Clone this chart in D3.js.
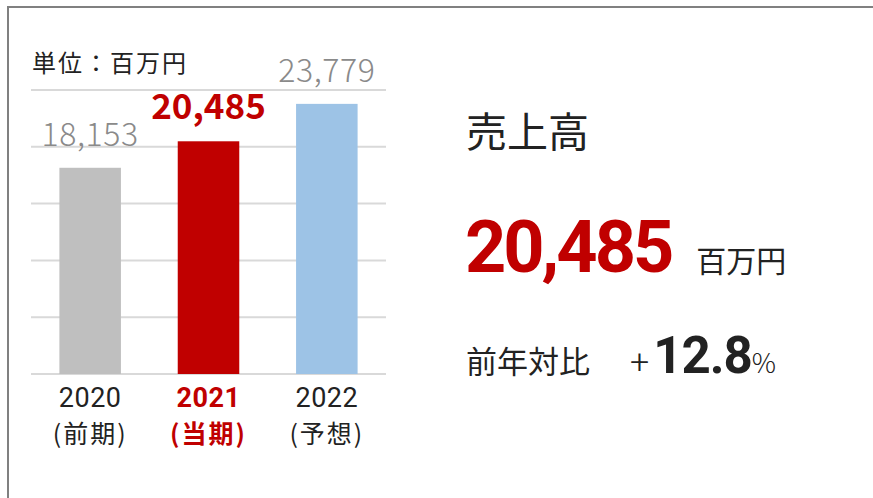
<!DOCTYPE html>
<html>
<head>
<meta charset="utf-8">
<script src="https://cdn.jsdelivr.net/npm/d3@7"></script>
<style>
  body { margin: 0; background: #fff; }
  text { font-family: "Noto Sans CJK JP", "Noto Sans", sans-serif; }
</style>
</head>
<body>
<div id="chart"></div>
<script>
// data
var years = ["2020", "2021", "2022"];
var periods = ["(前期)", "(当期)", "(予想)"];
var sales = [18153, 20485, 23779];
var barColors = ["#bfbfbf", "#c00000", "#9dc3e6"];
var labelColors = ["#8a8a8a", "#c00000", "#8a8a8a"];
var tickValues = [0, 5000, 10000, 15000, 20000, 25000];
var current = "2021";
var growth = "12.8";

var W = 873, H = 498;
var svg = d3.select("#chart").append("svg")
    .attr("width", W)
    .attr("height", H);

// frame
svg.append("rect")
    .attr("x", 8).attr("y", 7)
    .attr("width", W + 10).attr("height", H + 10)
    .attr("fill", "none")
    .attr("stroke", "#808080")
    .attr("stroke-width", 2);

var x = d3.scaleBand()
    .domain(years)
    .range([31, 386])
    .paddingInner(0.48)
    .paddingOuter(0.24);

var y = d3.scaleLinear()
    .domain([0, 25000])
    .range([374, 90]);

// gridlines
svg.append("g")
    .selectAll("line")
    .data(tickValues)
    .enter()
    .append("line")
    .attr("x1", 31).attr("x2", 386)
    .attr("y1", function(d) { return y(d); })
    .attr("y2", function(d) { return y(d); })
    .attr("stroke", "#d9d9d9")
    .attr("stroke-width", 2);

// bars
svg.selectAll("rect.bar")
    .data(sales)
    .enter()
    .append("rect")
    .attr("class", "bar")
    .attr("x", function(d, i) { return x(years[i]); })
    .attr("y", function(d) { return y(d); })
    .attr("width", x.bandwidth())
    .attr("height", function(d) { return y(0) - y(d); })
    .attr("fill", function(d, i) { return barColors[i]; });

// value labels
svg.selectAll("text.val")
    .data(sales)
    .enter()
    .append("text")
    .attr("class", "val")
    .attr("x", function(d, i) { return x(years[i]) + x.bandwidth() / 2; })
    .attr("y", function(d) { return y(d) - 22; })
    .attr("text-anchor", "middle")
    .attr("fill", function(d, i) { return labelColors[i]; })
    .style("font-size", function(d, i) { return years[i] == current ? "35px" : "32px"; })
    .style("font-weight", function(d, i) { return years[i] == current ? "700" : "300"; })
    .style("letter-spacing", function(d, i) { return years[i] == current ? "0px" : "0.6px"; })
    .text(function(d) { return d3.format(",")(d); });

// x axis labels (year + period)
var xl = svg.selectAll("g.xl")
    .data(years)
    .enter()
    .append("g")
    .attr("class", "xl")
    .attr("transform", function(d) { return "translate(" + (x(d) + x.bandwidth() / 2) + ",0)"; });
xl.append("text")
    .attr("y", 407)
    .attr("text-anchor", "middle")
    .attr("fill", function(d) { return d == current ? "#c00000" : "#222"; })
    .style("font-family", "Roboto, sans-serif")
    .style("font-size", "27px")
    .style("font-weight", function(d) { return d == current ? "700" : "400"; })
    .style("letter-spacing", "0.5px")
    .text(function(d) { return d; });
xl.append("text")
    .attr("y", 443)
    .attr("text-anchor", "middle")
    .attr("fill", function(d) { return d == current ? "#c00000" : "#222"; })
    .style("font-size", "25px")
    .style("font-weight", function(d) { return d == current ? "700" : "400"; })
    .style("letter-spacing", "2px")
    .text(function(d, i) { return periods[i]; });

// unit
svg.append("text")
    .attr("x", 32).attr("y", 72)
    .attr("fill", "#222")
    .style("font-size", "24px")
    .style("letter-spacing", "2px")
    .text("単位：百万円");

// right panel
svg.append("text")
    .attr("x", 466).attr("y", 147)
    .attr("fill", "#222")
    .style("font-size", "41px")
    .text("売上高");

var big = svg.append("text")
    .attr("x", 465).attr("y", 272)
    .attr("fill", "#222");
big.append("tspan")
    .attr("fill", "#c00000")
    .style("font-family", "Roboto, sans-serif")
    .style("font-size", "72px")
    .style("font-weight", "700")
    .style("letter-spacing", "-3px")
    .text(d3.format(",")(sales[years.indexOf(current)]));
big.append("tspan")
    .attr("dx", 25)
    .style("font-size", "30px")
    .text("百万円");

var yoy = svg.append("text")
    .attr("x", 466).attr("y", 373)
    .attr("fill", "#222");
yoy.append("tspan")
    .style("font-size", "31px")
    .text("前年対比");
yoy.append("tspan")
    .attr("dx", 40)
    .style("font-family", "Roboto, sans-serif")
    .style("font-size", "34px")
    .style("font-weight", "300")
    .text("+");
yoy.append("tspan")
    .attr("dx", 4)
    .style("font-family", "Roboto, sans-serif")
    .style("font-size", "51px")
    .style("font-weight", "700")
    .style("letter-spacing", "-1px")
    .text(growth);
yoy.append("tspan")
    .style("font-size", "27px")
    .style("font-weight", "300")
    .text("%");
</script>
</body>
</html>
